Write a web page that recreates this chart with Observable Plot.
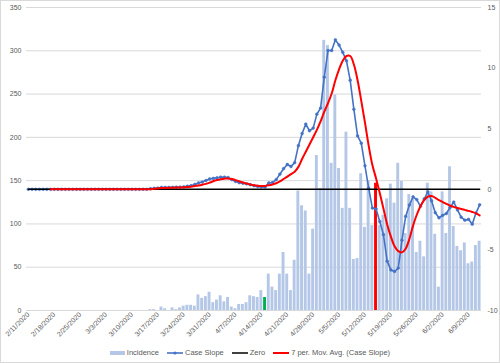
<!DOCTYPE html>
<html><head><meta charset="utf-8">
<script src="https://cdn.jsdelivr.net/npm/d3@7"></script>
<script src="https://cdn.jsdelivr.net/npm/@observablehq/plot@0.6"></script>
<style>
body{margin:0;background:#fff;}
#chart{width:500px;height:363px;box-sizing:border-box;border:1px solid #d9d9d9;font-family:"Liberation Sans",Arial,sans-serif;overflow:hidden;background:#fff}
#chart svg{display:block}
#legend{display:flex;justify-content:center;align-items:center;font-size:7.5px;color:#595959;height:19px;}
.item{display:flex;align-items:center;margin:0 4px;}
.item svg{margin-right:2px}
</style></head><body><div id="chart"></div>
<script>
// ---- data ----
const startDate = [2020, 2, 11]; // first category (Y, M, D)
const incidence = [
  0,0,0,0,0,0,0,0,0,0,
  0,0,0,0,0,0,0,0,0,0,
  0,0,0,0,0,0,0,0,0,0,
  0,0,0,1,1,0,4,2,0,3,
  1,3,5,6,6,5,18,14,16,21,
  9,12,17,10,15,4,2,7,7,9,
  17,16,15,23,15,42,27,23,42,67,
  42,23,58,138,121,115,42,94,179,141,
  312,306,170,249,164,118,206,118,59,60,
  158,96,150,98,147,98,110,129,146,124,
  170,149,89,134,129,67,80,62,147,137,
  88,27,137,89,166,97,74,69,78,54,
  56,75,80
];
const caseSlope = [
  0,0,0,0,0,0,0,0,0,0,
  0,0,0,0,0,0,0,0,0,0,
  0,0,0,0,0,0,0,0,0,0,
  0,0,0,0.05,0.08,0.1,0.15,0.15,0.15,0.16,
  0.17,0.18,0.2,0.25,0.3,0.4,0.52,0.6,0.72,0.85,
  0.9,0.95,1.0,1.0,0.97,0.8,0.65,0.55,0.5,0.45,
  0.38,0.3,0.24,0.2,0.2,0.52,0.56,0.8,1.25,1.7,
  2.05,1.88,2.2,3.6,4.6,5.38,4.83,5.05,6.2,6.7,
  9.25,11.45,11.45,12.33,11.9,11.3,10.6,9.0,6.6,4.4,
  3.8,1.94,0.1,-1.55,-1.63,-2.66,-3.75,-5.93,-6.65,-6.78,
  -6.5,-4.2,-2.24,-1.3,-0.62,-0.85,-1.4,-0.8,-0.22,-0.95,
  -1.93,-2.35,-2.15,-2.0,-1.5,-1.05,-1.7,-2.3,-2.55,-2.48,
  -2.88,-1.96,-1.28
];
const zeroSeries = caseSlope.map(() => 0);
const movAvg = [
  null,null,null,null,null,null,0,0,0,0,
  0,0,0,0,0,0,0,0,0,0,
  0,0,0,0,0,0,0,0,0,0,
  0,0,0,0,0.05,0.07,0.1,0.1,0.12,0.13,
  0.14,0.15,0.16,0.18,0.22,0.27,0.32,0.38,0.45,0.55,
  0.67,0.76,0.83,0.88,0.9,0.85,0.76,0.66,0.56,0.48,
  0.4,0.34,0.3,0.28,0.28,0.33,0.4,0.5,0.65,0.85,
  1.05,1.25,1.45,1.85,2.5,3.1,3.7,4.3,4.9,5.6,
  6.4,7.1,7.9,9.0,9.9,10.6,11.0,11.0,10.3,9.0,
  7.3,5.5,3.6,2.0,0.9,-0.3,-1.6,-2.9,-3.9,-4.7,
  -5.1,-5.2,-4.9,-4.1,-3.0,-2.1,-1.4,-0.9,-0.6,-0.55,
  -0.7,-0.9,-1.05,-1.2,-1.35,-1.45,-1.55,-1.62,-1.7,-1.78,
  -1.87,-1.98,-2.15
];
const highlightDates = ["4/15/2020", "5/15/2020"];
const highlightColors = ["#00B050", "#FF0000"];
const xTickLabels = ["2/11/2020","2/18/2020","2/25/2020","3/3/2020","3/10/2020","3/17/2020","3/24/2020","3/31/2020","4/7/2020","4/14/2020","4/21/2020","4/28/2020","5/5/2020","5/12/2020","5/19/2020","5/26/2020","6/2/2020","6/9/2020"];
const leftTicks = [0, 50, 100, 150, 200, 250, 300, 350];
const rightTicks = [-10, -5, 0, 5, 10, 15];
const legendLabels = ["Incidence", "Case Slope", "Zero", "7 per. Mov. Avg. (Case Slope)"];

// ---- helpers ----
const DAY = 864e5;
const parseMDY = s => { const [m, d, y] = s.split("/").map(Number); return new Date(Date.UTC(y, m - 1, d)); };
const t0 = Date.UTC(startDate[0], startDate[1] - 1, startDate[2]);
const leftMax = leftTicks[leftTicks.length - 1];
const rMin = rightTicks[0], rMax = rightTicks[rightTicks.length - 1];
const toLeft = v => (v - rMin) / (rMax - rMin) * leftMax;
const hlMap = new Map(highlightDates.map((s, i) => [+parseMDY(s), highlightColors[i]]));

const rows = incidence.map((v, i) => {
  const date = new Date(t0 + i * DAY);
  return {
    date,
    x1: new Date(+date - DAY / 2),
    x2: new Date(+date + DAY / 2),
    inc: v,
    fill: hlMap.get(+date) || "#B4C7E7",
    slopeY: toLeft(caseSlope[i]),
    zeroY: toLeft(zeroSeries[i]),
    ma: movAvg[i],
    maY: movAvg[i] == null ? null : toLeft(movAvg[i])
  };
});
const tickDates = xTickLabels.map(parseMDY);
const tickLabelMap = new Map(xTickLabels.map(s => [+parseMDY(s), s]));
const rightLabelMap = new Map(rightTicks.map(t => [toLeft(t), String(t)]));
const lastDate = rows[rows.length - 1].date;

const chart = Plot.plot({
  width: 498, height: 342,
  marginLeft: 25, marginRight: 18, marginTop: 6, marginBottom: 33,
  style: {fontFamily: "'Liberation Sans', Arial, sans-serif", fontSize: "7px", color: "#595959", background: "white", overflow: "visible"},
  x: {type: "utc", domain: [new Date(t0 - DAY / 2), new Date(+lastDate + DAY / 2)]},
  y: {domain: [0, leftMax]},
  marks: [
    Plot.gridY(leftTicks, {stroke: "#d9d9d9", strokeOpacity: 1, strokeWidth: 1}),
    Plot.rectY(rows, {x1: "x1", x2: "x2", y: "inc", fill: "fill", insetLeft: 0.35, insetRight: 0.45}),
    Plot.line(rows, {x: "date", y: "slopeY", stroke: "#4472C4", strokeWidth: 1.6}),
    Plot.dot(rows, {x: "date", y: "slopeY", r: 1.4, fill: "#4472C4", stroke: "#4472C4", strokeWidth: 0.5}),
    Plot.line(rows, {x: "date", y: "zeroY", stroke: "black", strokeWidth: 1.5}),
    Plot.line(rows.filter(d => d.ma != null), {x: "date", y: "maY", stroke: "#FF0000", strokeWidth: 2, curve: "catmull-rom"}),
    Plot.axisY(leftTicks, {anchor: "left", tickSize: 0, tickPadding: 5, label: null, fill: "#595959"}),
    Plot.axisY(rightTicks.map(toLeft), {anchor: "right", tickSize: 0, tickPadding: 6, label: null, fill: "#595959", tickFormat: d => rightLabelMap.get(d)}),
    Plot.axisX(tickDates, {tickRotate: -45, tickSize: 0, tickPadding: 3, label: null, fill: "#595959", tickFormat: d => tickLabelMap.get(+d)})
  ]
});
const root = document.getElementById("chart");
root.appendChild(chart);

// ---- legend ----
const swatches = [
  '<svg width="15" height="6"><rect x="0" y="1" width="15" height="4" fill="#B4C7E7"/></svg>',
  '<svg width="16" height="6"><line x1="0" y1="3" x2="16" y2="3" stroke="#4472C4" stroke-width="1.6"/><circle cx="8" cy="3" r="1.6" fill="#4472C4"/></svg>',
  '<svg width="16" height="6"><line x1="0" y1="3" x2="16" y2="3" stroke="black" stroke-width="1.5"/></svg>',
  '<svg width="16" height="6"><line x1="0" y1="3" x2="16" y2="3" stroke="#FF0000" stroke-width="2"/></svg>'
];
const legend = document.createElement("div");
legend.id = "legend";
legendLabels.forEach((lab, i) => {
  const s = document.createElement("span");
  s.className = "item";
  s.innerHTML = swatches[i];
  s.appendChild(document.createTextNode(lab));
  legend.appendChild(s);
});
root.appendChild(legend);
</script>
</body></html>
